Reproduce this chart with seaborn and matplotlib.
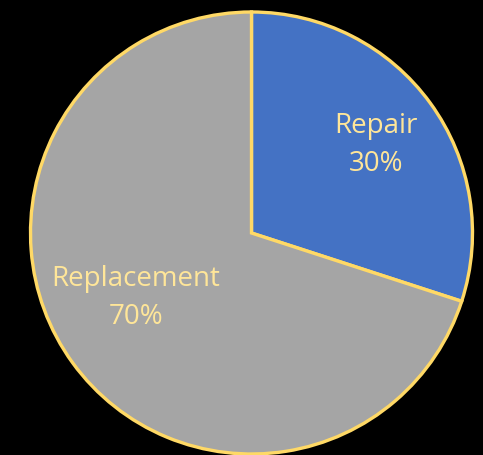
import matplotlib
matplotlib.use("Agg")
import matplotlib.pyplot as plt
import seaborn as sns

# Data
labels = ["Repair", "Replacement"]
shares = [30, 70]
colors = ["#4472C4", "#A5A5A5"]

sns.set_theme(style="white")
plt.rcParams["font.family"] = ["Open Sans", "DejaVu Sans"]

fig = plt.figure(figsize=(4.83, 4.56), dpi=100, facecolor="black")
ax = fig.add_axes([0, 0, 1, 1])
ax.set_facecolor("black")

wedges, texts = ax.pie(
    shares,
    colors=colors,
    startangle=90,
    counterclock=False,
    center=(251.5, 222),
    radius=221,
    wedgeprops=dict(edgecolor="#FFD966", linewidth=2.4),
)

ax.set_xlim(0, 483)
ax.set_ylim(0, 456)
ax.set_aspect("equal")
ax.axis("off")

# Labels inside slices
label_pos = [(376, 456 - 145), (136, 456 - 298)]
for lab, val, (x, y) in zip(labels, shares, label_pos):
    ax.text(x, y, f"{lab}\n{val}%", ha="center", va="center",
            color="#FFE699", fontsize=20, linespacing=1.45)

plt.savefig("out.png", dpi=100, facecolor="black")
